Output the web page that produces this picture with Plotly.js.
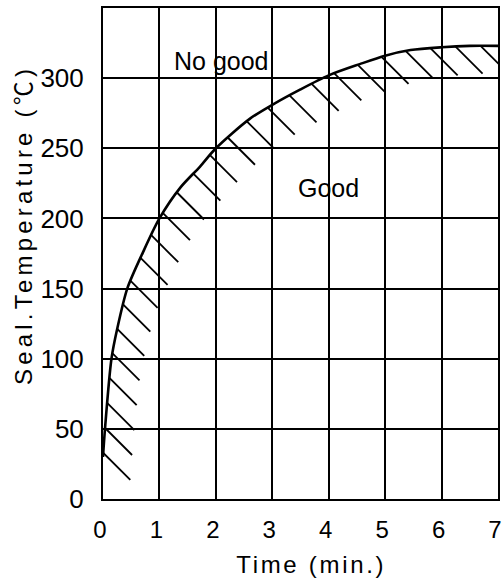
<!DOCTYPE html>
<html><head><meta charset="utf-8">
<script src="https://cdn.plot.ly/plotly-3.0.1.min.js"></script>
<style>
html,body{margin:0;padding:0;background:#fff;}
#chart{width:502px;height:581px;}
</style></head><body><div id="chart"></div>
<script>
// Data
const timeMin  = [0, 0.035, 0.15, 0.25, 0.43, 0.71, 1, 1.37, 1.72, 2, 2.6, 3, 3.5, 4, 4.55, 5, 5.45, 6, 6.5, 7];
const sealTemp = [30, 50, 100, 121, 150, 176, 200, 222, 237, 250, 271, 281, 292, 302, 310, 316, 320, 322, 323, 323];
const xTickVals = [0, 1, 2, 3, 4, 5, 6, 7];
const yTickVals = [0, 50, 100, 150, 200, 250, 300];
const regionNames = ["No good", "Good"];
const xTitle = "Time (min.)";
const yTitle = "Seal.Temperature (℃)";

const W = 502, H = 581;
const M = {l: 103, r: 4, t: 8, b: 82};
const xRange = [0, 7], yRange = [0, 350];
const plotW = W - M.l - M.r, plotH = H - M.t - M.b;
const pxX = plotW / (xRange[1] - xRange[0]);
const pxY = plotH / (yRange[1] - yRange[0]);

// Hatching below the boundary curve, evenly spaced along it in screen space
const dense = [];
for (let i = 0; i < timeMin.length - 1; i++) {
  for (let k = 0; k < 20; k++) {
    const t = k / 20;
    dense.push([timeMin[i] + t * (timeMin[i+1] - timeMin[i]), sealTemp[i] + t * (sealTemp[i+1] - sealTemp[i])]);
  }
}
dense.push([timeMin[timeMin.length-1], sealTemp[sealTemp.length-1]]);
const step = 25, hatchLen = 27, startOffset = 4;
const hx = [], hy = [];
let acc = 0, next = startOffset;
for (let i = 1; i < dense.length; i++) {
  const dxp = (dense[i][0] - dense[i-1][0]) * pxX, dyp = (dense[i][1] - dense[i-1][1]) * pxY;
  const seg = Math.hypot(dxp, dyp);
  while (next <= acc + seg) {
    const f = (next - acc) / seg;
    const x0 = dense[i-1][0] + f * (dense[i][0] - dense[i-1][0]);
    const y0 = dense[i-1][1] + f * (dense[i][1] - dense[i-1][1]);
    hx.push(x0, x0 + hatchLen / pxX, null);
    hy.push(y0, y0 - hatchLen / pxY, null);
    next += step;
  }
  acc += seg;
}

const FONT = '"Liberation Sans", Arial, "Noto Sans CJK JP", sans-serif';

const traces = [
  {x: hx, y: hy, mode: 'lines', line: {color: '#000', width: 1.8}, hoverinfo: 'skip', showlegend: false},
  {x: timeMin, y: sealTemp, mode: 'lines', line: {color: '#000', width: 2.6, shape: 'spline', smoothing: 0.8}, showlegend: false}
];

const px2paperX = p => (p - M.l) / plotW;
const px2paperY = p => (H - M.b - p) / plotH;

const layout = {
  width: W, height: H,
  margin: M,
  paper_bgcolor: '#fff', plot_bgcolor: '#fff',
  showlegend: false,
  font: {family: FONT, color: '#000'},
  xaxis: {
    range: xRange, tickvals: xTickVals, ticktext: xTickVals.map(String),
    showgrid: true, gridcolor: '#000', gridwidth: 2,
    showline: true, linecolor: '#000', linewidth: 2, mirror: true,
    zeroline: false, ticks: '', ticklabelstandoff: 8, ticklabelshift: -3, ticklabeloverflow: 'allow',
    tickfont: {family: FONT, size: 24, color: '#000'}
  },
  yaxis: {
    range: yRange, tickvals: yTickVals, ticktext: yTickVals.map(String),
    showgrid: true, gridcolor: '#000', gridwidth: 2,
    showline: true, linecolor: '#000', linewidth: 2, mirror: true,
    zeroline: false, ticks: '', ticklabelstandoff: 12, ticklabeloverflow: 'allow',
    tickfont: {family: FONT, size: 26, color: '#000'}
  },
  annotations: [
    {x: 2.1, y: 312, xref: 'x', yref: 'y', text: regionNames[0], showarrow: false, font: {family: FONT, size: 25, color: '#000'}},
    {x: 4.0, y: 222, xref: 'x', yref: 'y', text: regionNames[1], showarrow: false, font: {family: FONT, size: 25, color: '#000'}},
    {x: px2paperX(311), y: px2paperY(564), xref: 'paper', yref: 'paper', text: xTitle, showarrow: false,
     xanchor: 'center', yanchor: 'middle', font: {family: FONT, size: 24, color: '#000'}},
    {x: px2paperX(23), y: px2paperY(225), xref: 'paper', yref: 'paper', text: yTitle, showarrow: false, textangle: -90,
     xanchor: 'center', yanchor: 'middle', font: {family: FONT, size: 24, color: '#000'}}
  ]
};

Plotly.newPlot('chart', traces, layout, {staticPlot: true, displayModeBar: false}).then(() => {
  const t = document.querySelectorAll('.annotation-text');
  if (t[2]) t[2].style.letterSpacing = '2.7px';
  if (t[3]) t[3].style.letterSpacing = '4.2px';
});
</script></body></html>
